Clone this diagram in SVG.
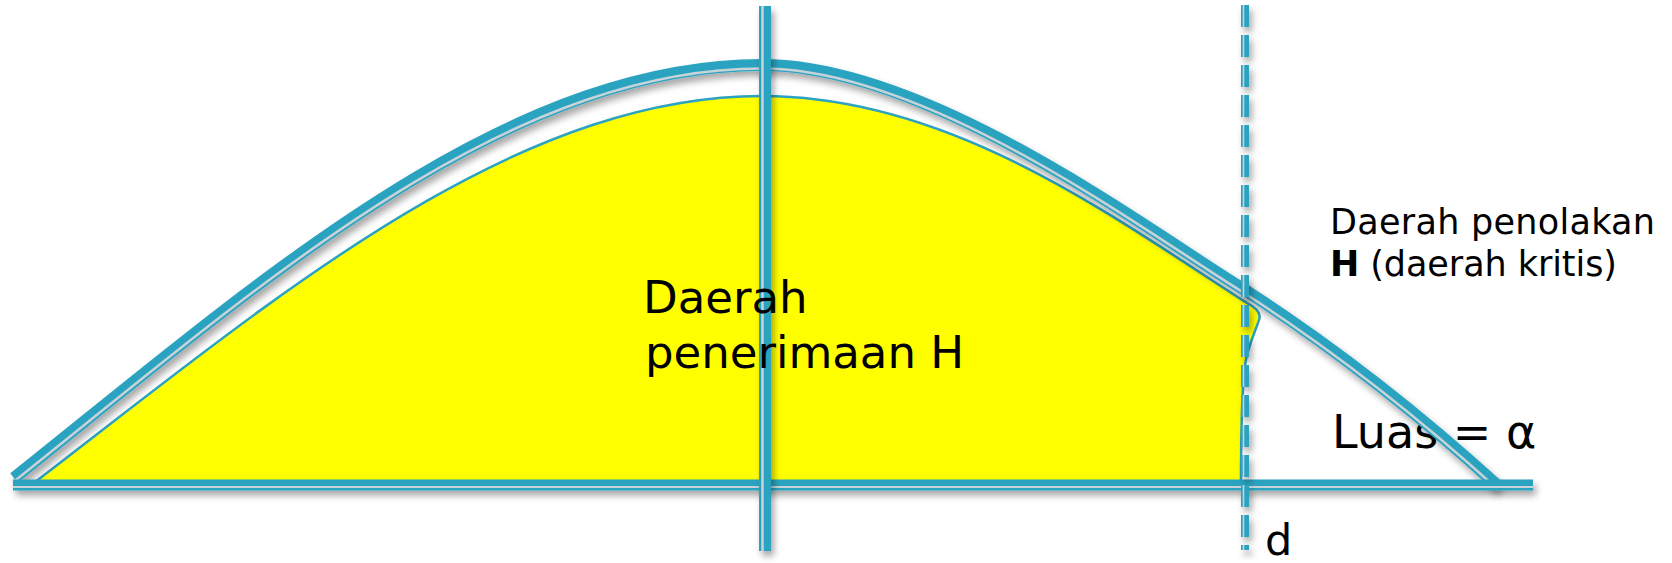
<svg xmlns="http://www.w3.org/2000/svg" width="1672" height="563" viewBox="0 0 1672 563">
  <style>
    .band { fill: none; stroke: #2ba3c1; stroke-linecap: butt; }
    .stripe { fill: none; stroke: #c9d3d7; stroke-linecap: butt; }
    .lbl { font-family: "DejaVu Sans", "Liberation Sans", sans-serif; fill: #000; }
    .dash { stroke-dasharray: 22 8; }
  </style>
  <defs>
    <filter id="shadow" filterUnits="userSpaceOnUse" x="0" y="0" width="1672" height="563">
      <feGaussianBlur in="SourceAlpha" stdDeviation="3.5"/>
      <feOffset dx="3" dy="5" result="blur"/>
      <feComponentTransfer in="blur" result="soft">
        <feFuncA type="linear" slope="0.35"/>
      </feComponentTransfer>
      <feMerge>
        <feMergeNode in="soft"/>
        <feMergeNode in="SourceGraphic"/>
      </feMerge>
    </filter>
  </defs>

  <!-- acceptance region (filled area under the curve) -->
  <g id="acceptance-region">
    <path d="M35,482 C270,302 510,96 762,96 C950,96 1110,215 1247,303 C1255,307 1262,312 1259,320 C1256,330 1248,345 1245,365 C1242,390 1241,440 1241,482 Z"
          fill="#ffff00" stroke="#2ba3c1" stroke-width="2.5" stroke-linejoin="round"/>
  </g>

  <!-- area label sits under the curve line -->
  <g id="area-label">
    <text class="lbl" x="1332" y="448" font-size="46">Luas = α</text>
  </g>

  <g id="connectors">
    <!-- distribution curve -->
    <g id="curve" filter="url(#shadow)">
      <path class="band" stroke-width="12" d="M14,478 C250,290 500,65 762,65 C930,65 1150,232 1245,290 C1330,345 1420,415 1498,486"/>
      <path class="stripe" stroke-width="2.5" transform="translate(0,3.5)" d="M14,478 C250,290 500,65 762,65 C930,65 1150,232 1245,290 C1330,345 1420,415 1498,486"/>
    </g>

    <!-- horizontal axis -->
    <g id="axis" filter="url(#shadow)">
      <line class="band" x1="13" y1="485" x2="1533" y2="485" stroke-width="11"/>
      <line class="stripe" x1="13" y1="487" x2="1533" y2="487" stroke-width="2"/>
    </g>

    <!-- centre line -->
    <g id="centre-line" filter="url(#shadow)">
      <line class="band" x1="765" y1="6" x2="765" y2="551" stroke-width="12"/>
      <line class="stripe" x1="762.5" y1="6" x2="762.5" y2="551" stroke-width="2.5"/>
    </g>

    <!-- critical value line d -->
    <g id="critical-line" filter="url(#shadow)">
      <line class="band dash" x1="1245" y1="5" x2="1245" y2="550" stroke-width="8"/>
      <line class="stripe dash" x1="1243.5" y1="5" x2="1243.5" y2="550" stroke-width="1.6"/>
    </g>
  </g>

  <g id="acceptance-label">
    <text class="lbl" x="643" y="313" font-size="45">Daerah</text>
    <text class="lbl" x="645" y="368" font-size="45">penerimaan H</text>
  </g>

  <g id="rejection-label">
    <text class="lbl" x="1330" y="234" font-size="35" textLength="325" lengthAdjust="spacing">Daerah penolakan</text>
    <text class="lbl" x="1330" y="276" font-size="35" textLength="287" lengthAdjust="spacing"><tspan font-weight="bold">H</tspan> (daerah kritis)</text>
  </g>

  <g id="critical-label">
    <text class="lbl" x="1265" y="555" font-size="43">d</text>
  </g>
</svg>
